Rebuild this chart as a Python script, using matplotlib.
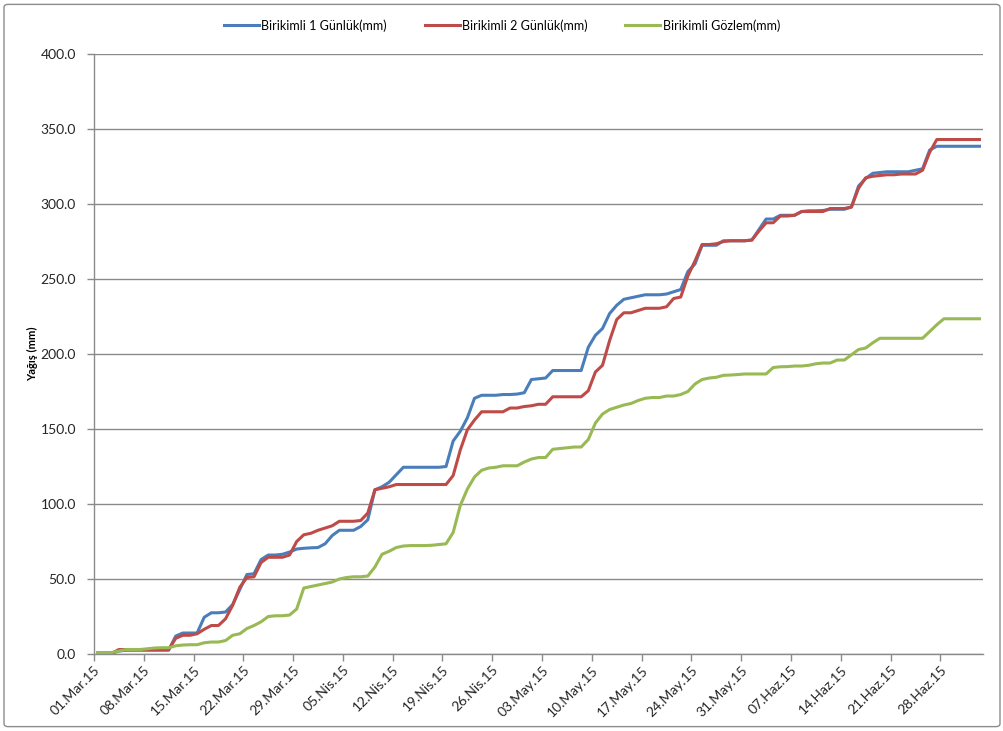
import numpy as np
import pandas as pd
import matplotlib
matplotlib.use("Agg")
import matplotlib.pyplot as plt
from matplotlib.patches import FancyBboxPatch
import matplotlib.transforms as mtransforms

# Daily cumulative rainfall, 01 Mar 2015 - 03 Jul 2015 (mm)
dates = pd.date_range("2015-03-01", "2015-07-03", freq="D")

birikimli_1 = [
    0.0, 0.0, 0.5, 2.0, 2.5, 2.5, 2.5, 2.5, 2.5, 2.5,
    2.5, 12.0, 14.0, 14.0, 14.0, 24.5, 27.5, 27.5, 28.0, 33.0,
    43.0, 53.0, 53.5, 63.0, 66.0, 66.0, 66.5, 68.0, 70.0, 70.5,
    70.8, 71.0, 73.5, 79.0, 82.5, 82.5, 82.5, 85.0, 89.5, 109.5,
    111.5, 114.5, 119.5, 124.5, 124.5, 124.5, 124.5, 124.5, 124.5, 125.0,
    142.0, 148.5, 157.5, 170.5, 172.5, 172.5, 172.5, 173.0, 173.0, 173.3,
    174.2, 183.0, 183.5, 184.0, 189.0, 189.0, 189.0, 189.0, 189.0, 204.5,
    212.5, 217.0, 227.0, 232.5, 236.5, 237.5, 238.5, 239.5, 239.5, 239.5,
    240.0, 241.5, 243.0, 255.0, 260.0, 272.5, 272.5, 272.5, 275.5, 275.5,
    275.5, 275.5, 276.0, 283.0, 290.0, 290.0, 292.5, 292.5, 292.5, 295.0,
    295.5, 295.5, 295.7, 296.5, 296.5, 296.5, 298.0, 312.0, 317.0, 320.5,
    321.0, 321.5, 321.5, 321.5, 321.5, 322.5, 323.5, 336.0, 338.5, 338.5,
    338.5, 338.5, 338.5, 338.5, 338.5,
]

birikimli_2 = [
    0.0, 0.0, 0.5, 3.0, 3.0, 3.0, 3.0, 3.0, 3.0, 3.0,
    3.0, 10.5, 12.5, 12.5, 13.5, 16.5, 19.0, 19.0, 23.5, 32.5,
    44.5, 51.0, 51.5, 61.0, 64.5, 64.5, 64.5, 66.0, 75.0, 79.5,
    80.5, 82.5, 84.0, 85.5, 88.5, 88.5, 88.5, 89.0, 94.0, 109.5,
    110.5, 111.5, 113.0, 113.0, 113.0, 113.0, 113.0, 113.0, 113.0, 113.0,
    119.0, 136.0, 149.5, 156.0, 161.5, 161.5, 161.5, 161.5, 164.0, 164.0,
    165.0, 165.5, 166.5, 166.5, 171.5, 171.5, 171.5, 171.5, 171.5, 175.5,
    188.0, 192.5, 209.0, 223.0, 227.5, 227.5, 229.0, 230.5, 230.5, 230.5,
    231.5, 237.0, 238.0, 252.0, 262.0, 273.0, 273.0, 273.5, 275.0, 275.5,
    275.5, 275.5, 276.0, 282.0, 287.5, 287.5, 292.0, 292.0, 292.5, 295.0,
    295.0, 295.0, 295.0, 297.0, 297.0, 297.0, 298.0, 310.5, 317.5, 318.5,
    319.0, 319.5, 319.5, 320.0, 320.0, 320.0, 322.5, 334.5, 343.0, 343.0,
    343.0, 343.0, 343.0, 343.0, 343.0,
]

birikimli_gozlem = [
    1.0, 1.0, 1.0, 2.0, 3.0, 3.0, 3.0, 3.5, 4.0, 4.2,
    4.2, 5.5, 6.0, 6.2, 6.2, 7.5, 8.0, 8.0, 9.0, 12.5,
    13.5, 17.0, 19.0, 21.5, 25.0, 25.5, 25.5, 26.0, 30.0, 44.0,
    45.0, 46.0, 47.0, 48.0, 50.0, 51.0, 51.5, 51.5, 52.0, 58.0,
    66.5, 68.5, 71.0, 72.0, 72.3, 72.3, 72.3, 72.5, 73.0, 73.5,
    81.0, 99.0, 110.0, 118.0, 122.5, 124.0, 124.5, 125.5, 125.5, 125.5,
    128.0, 130.0, 131.0, 131.0, 136.5, 137.0, 137.5, 138.0, 138.0, 143.0,
    154.0, 160.0, 163.0, 164.5, 166.0, 167.0, 169.0, 170.5, 171.0, 171.0,
    172.0, 172.0, 173.0, 175.0, 180.0, 183.0, 184.0, 184.5, 185.8, 186.0,
    186.3, 186.7, 186.7, 186.7, 186.7, 191.0, 191.5, 191.6, 192.0, 192.0,
    192.5, 193.5, 194.0, 194.0, 196.0, 196.0, 199.5, 203.0, 204.0, 207.5,
    210.5, 210.5, 210.5, 210.5, 210.5, 210.5, 210.5, 215.0, 219.5, 223.5,
    223.5, 223.5, 223.5, 223.5, 223.5,
]

series_names = ["Birikimli 1 Günlük(mm)", "Birikimli 2 Günlük(mm)", "Birikimli Gözlem(mm)"]
series_colors = ["#4A7EBB", "#BE4B48", "#98B954"]

tr_months = {3: "Mar", 4: "Nis", 5: "May", 6: "Haz", 7: "Tem"}
tick_every = 7
tick_labels = [f"{d.day:02d}.{tr_months[d.month]}.{d.strftime('%y')}" for d in dates[::tick_every]]

y_ticks = np.arange(0, 401, 50)

plt.rcParams["font.family"] = ["Lato", "DejaVu Sans"]

fig = plt.figure(figsize=(10.04, 7.31), dpi=100)
ax = fig.add_axes([0.0936, 0.1053, 0.8855, 0.8208])

# outer chart frame
frame = FancyBboxPatch((0.004, 0.006), 0.992, 0.988, boxstyle="round,pad=0,rounding_size=0.004",
                       transform=fig.transFigure, facecolor="none", edgecolor="#8c8c8c",
                       linewidth=1.0, zorder=0)
fig.patches.append(frame)

x = np.arange(len(dates))
for vals, name, col in zip([birikimli_1, birikimli_2, birikimli_gozlem], series_names, series_colors):
    ax.plot(x, vals, color=col, linewidth=2.2, label=name, solid_joinstyle="round", zorder=3)

ax.set_xlim(-0.5, len(dates) - 0.5)
ax.set_ylim(0, 400)
ax.set_yticks(y_ticks)
ax.set_yticklabels([f"{v:.1f}" for v in y_ticks], fontsize=10, color="#262626")
ax.yaxis.grid(True, color="#8a8a8a", linewidth=1.0)
ax.set_axisbelow(True)

ax.set_xticks(x[::tick_every] - 0.5)
ax.set_xticklabels(tick_labels, rotation=45, ha="right", va="top", rotation_mode="anchor",
                   fontsize=10, color="#262626")
offset = mtransforms.ScaledTranslation(9 / 100, -4 / 100, fig.dpi_scale_trans)
for lab in ax.get_xticklabels():
    lab.set_transform(lab.get_transform() + offset)

for side in ["top", "right"]:
    ax.spines[side].set_visible(False)
for side in ["left", "bottom"]:
    ax.spines[side].set_color("#8a8a8a")
    ax.spines[side].set_linewidth(1.0)
ax.tick_params(axis="both", direction="out", length=5, width=1.0, color="#8a8a8a")
ax.tick_params(axis="y", pad=8)
ax.tick_params(axis="x", pad=2)

ax.set_ylabel("Yağış (mm)", fontsize=8, fontweight="bold")
ax.yaxis.set_label_coords(-0.063, 0.5)

fig.legend(loc="center", bbox_to_anchor=(0.5, 0.965), ncol=3, frameon=False, fontsize=9,
           handlelength=2.8, columnspacing=3.0, handletextpad=0.2)

fig.savefig("out.png", dpi=100)
